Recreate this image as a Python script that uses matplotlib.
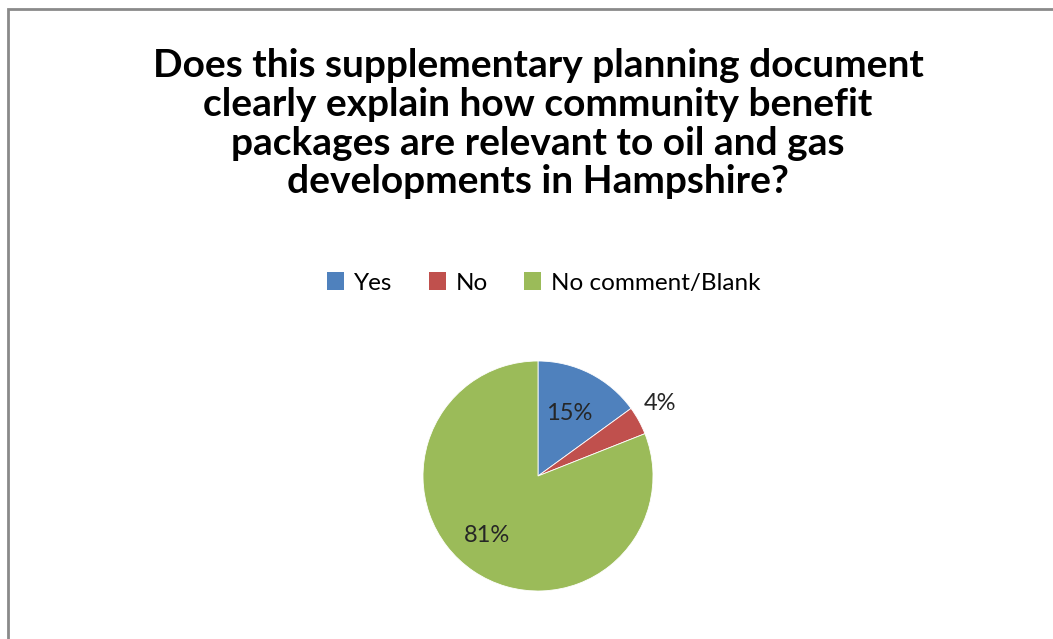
import matplotlib.pyplot as plt
from matplotlib.patches import Rectangle, Patch

plt.rcParams['font.family'] = ['Lato', 'DejaVu Sans']

title = ("Does this supplementary planning document\n"
         "clearly explain how community benefit\n"
         "packages are relevant to oil and gas\n"
         "developments in Hampshire?")
categories = ["Yes", "No", "No comment/Blank"]
shares = [15, 4, 81]
colors = ["#4F81BD", "#C0504D", "#9BBB59"]

W, H = 1053, 639
fig = plt.figure(figsize=(W / 100, H / 100), dpi=100)

# chart area border (runs off the right and bottom edges)
fig.patches.append(Rectangle((8 / W, -0.1), 1.2, (H - 9) / H + 0.1,
                             transform=fig.transFigure, fill=False,
                             edgecolor="#8a8a8a", linewidth=2))

fig.text(538 / W, 1 - 48 / H, title, ha="center", va="top",
         fontsize=28, fontweight="bold", linespacing=1.13, color="#000000")

# pie: centre (538, 476), radius 115 px
cx, cy, r = 538, 476, 115
ax = fig.add_axes([(cx - r) / W, (H - cy - r) / H, 2 * r / W, 2 * r / H])
wedges, texts, autotexts = ax.pie(
    shares, colors=colors, startangle=90, counterclock=False,
    autopct="%d%%", pctdistance=0.6,
    wedgeprops=dict(linewidth=0.6, edgecolor="white"),
    textprops=dict(fontsize=17, color="#262626"))
ax.set_xlim(-1, 1)
ax.set_ylim(-1, 1)
ax.set_aspect("equal")

label_pos = [(0.27, 0.54), (1.06, 0.63), (-0.44, -0.52)]
for t, pos in zip(autotexts, label_pos):
    t.set_position(pos)

handles = [Patch(facecolor=c, edgecolor="none") for c in colors]
fig.legend(handles, categories, loc="center", ncol=3,
           bbox_to_anchor=(544 / W, 1 - 283 / H), frameon=False,
           fontsize=17.5, handlelength=0.7, handleheight=0.7,
           handletextpad=0.4, columnspacing=1.5)

fig.savefig("out.png", dpi=100)
